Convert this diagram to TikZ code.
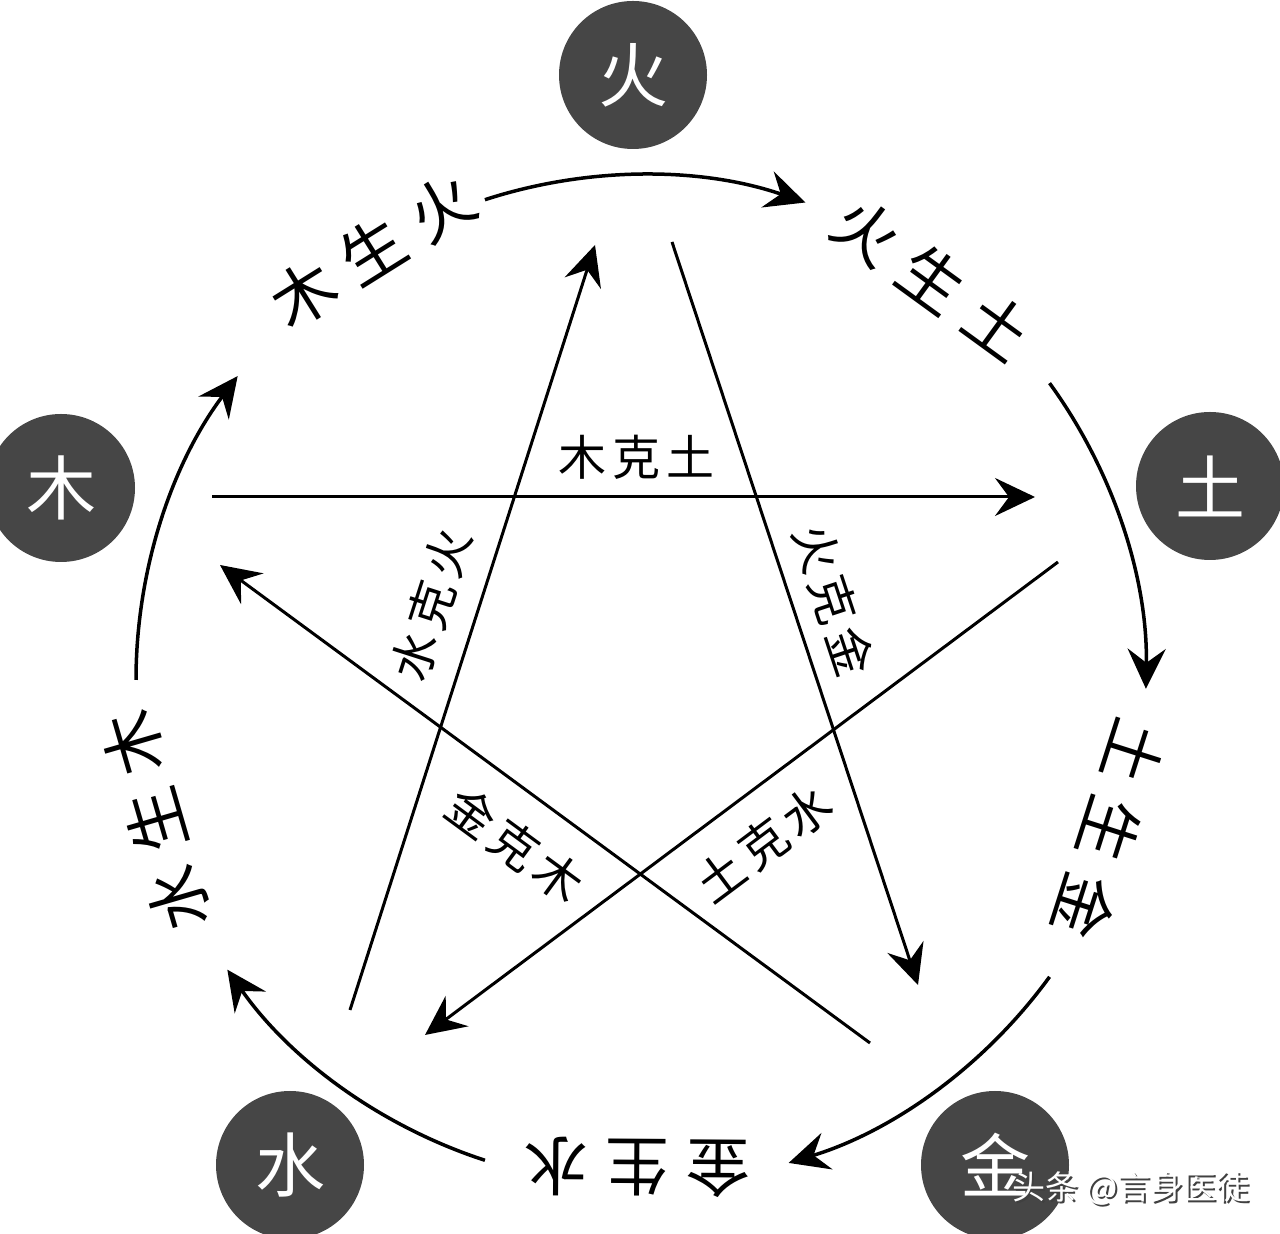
\documentclass[tikz,border=0pt]{standalone}
\usepackage{fontspec}
\newfontfamily\cjk{Noto Sans CJK SC}
\usetikzlibrary{arrows.meta}
\definecolor{elemgray}{RGB}{70,70,70}
\newcommand{\wgap}{\hspace{17pt}}
\newcommand{\kgap}{\hspace{6pt}}

\begin{document}
\begin{tikzpicture}[x=1pt,y=1pt,>={Stealth[length=40pt,width=38pt,inset=14pt]},flow/.style={->,line width=3.5pt},ke/.style={->,line width=3pt},element/.style={circle,fill=elemgray,minimum size=148pt,inner sep=0pt,text=white,font=\cjk\fontsize{70}{70}\selectfont},sheng/.style={inner sep=0pt,font=\cjk\fontsize{64}{64}\selectfont},kelabel/.style={inner sep=0pt,font=\cjk\fontsize{48}{48}\selectfont},wmtext/.style={inner sep=0pt,font=\cjk\fontsize{33}{33}\selectfont}]
\useasboundingbox[fill=white] (0,0) rectangle (1280,1234);
\coordinate (C) at (641,554);
\node[element] (huo) at (633,1159) {火}; \node[element] (mu) at (61,746) {木}; \node[element] (tu) at (1210,748) {土};
\node[element] (shui) at (290,69) {水}; \node[element] (jin) at (995,69) {金};
\begin{scope}[shift={(C)}]
\foreach \k in {0,...,4} \draw[flow] ({108-72*\k}:505) arc[start angle={108-72*\k},end angle={71-72*\k},radius=505];
\foreach \ang/\dist/\txt [count=\i] in {122/506/木\wgap 生\wgap 火,54/495/火\wgap 生\wgap 土,-17.7/492/土\wgap 生\wgap 金,-90.4/487/金\wgap 生\wgap 水,-163.8/505/水\wgap 生\wgap 木}
  \node[sheng,rotate=\ang-90] (sheng\i) at (\ang:\dist) {\txt};
\end{scope}
\coordinate (kM0) at (212,737); \coordinate (kM1) at (1035,737);
\coordinate (kH0) at (672,992); \coordinate (kH1) at (918,249);
\coordinate (kT0) at (1058,672); \coordinate (kT1) at (425,199);
\coordinate (kJ0) at (870,191); \coordinate (kJ1) at (220,669);
\coordinate (kS0) at (350,224); \coordinate (kS1) at (595,989);
\draw[ke] (kM0) -- (kM1); \draw[ke] (kH0) -- (kH1); \draw[ke] (kT0) -- (kT1); \draw[ke] (kJ0) -- (kJ1); \draw[ke] (kS0) -- (kS1);
\node[kelabel] (muke) at (636,777) {木\kgap 克\kgap 土};
\node[kelabel,rotate=-71.7] (huoke) at (834,634) {火\kgap 克\kgap 金};
\node[kelabel,rotate=72.2] (shuike) at (431,629) {水\kgap 克\kgap 火};
\node[kelabel,rotate=-36.3] (jinke) at (515,389) {金\kgap 克\kgap 木};
\node[kelabel,rotate=36.8] (tuke) at (764,390) {土\kgap 克\kgap 水};
\node[wmtext,text=black!75] (wmshade) at (1133,44) {头条 @言身医徒};
\node[wmtext,text=white] (wm) at (1131,46) {头条 @言身医徒};
\end{tikzpicture}
\end{document}
